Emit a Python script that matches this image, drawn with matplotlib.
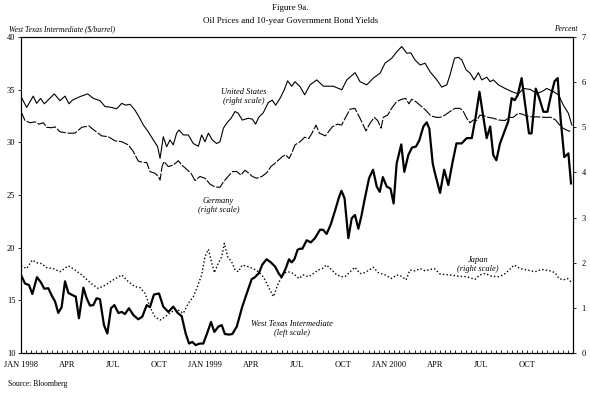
import numpy as np
import matplotlib
matplotlib.use('Agg')
import matplotlib.pyplot as plt

plt.rcParams['font.family'] = ['Liberation Serif', 'DejaVu Serif']

# x positions are months since Jan 1998
wti_t = [0, 0.26, 0.52, 0.74, 1.04, 1.3, 1.52, 1.78, 2.04, 2.22, 2.43, 2.65, 2.87, 3.09, 3.35,
         3.57, 3.78, 4.07, 4.28, 4.5, 4.72, 4.93, 5.15, 5.41, 5.63, 5.87, 6.09, 6.35, 6.57, 6.78,
         7.04, 7.33, 7.65, 7.91, 8.2, 8.41, 8.67, 9.0, 9.28, 9.61, 9.93, 10.22, 10.48, 10.74,
         10.96, 11.17, 11.39, 11.67, 11.89, 12.17, 12.39, 12.61, 12.87, 13.09, 13.3, 13.57,
         13.78, 14.07, 14.43, 14.72, 15.04, 15.26, 15.52, 15.74, 16.02, 16.3, 16.57, 16.83, 17.0,
         17.26, 17.48, 17.65, 17.83, 18.04, 18.2, 18.35, 18.63, 18.9, 19.17, 19.5, 19.7, 19.93,
         20.2, 20.5, 20.74, 20.9, 21.1, 21.35, 21.57, 21.78, 22.0, 22.2, 22.4, 22.7, 22.96, 23.2,
         23.4, 23.6, 23.85, 24.1, 24.3, 24.5, 24.8, 25.0, 25.26, 25.5, 25.76, 25.98, 26.24,
         26.46, 26.63, 26.85, 27.0, 27.33, 27.6, 27.87, 28.13, 28.4, 28.74, 29.07, 29.4, 29.65,
         29.9, 30.15, 30.37, 30.6, 30.8, 31.0, 31.24, 31.57, 31.78, 32.0, 32.2, 32.4, 32.65,
         32.87, 33.13, 33.3, 33.57, 33.8, 34.07, 34.33, 34.57, 34.8, 35.0, 35.2, 35.43, 35.7, 35.87]
wti_v = [17.4, 16.6, 16.45, 15.6, 17.2, 16.7, 16.1, 16.15, 15.35, 14.9, 13.8, 14.35, 16.8, 15.7, 15.5,
         15.35, 13.3, 16.2, 15.2, 14.5, 14.55, 15.2, 15.1, 12.65, 11.85, 14.25, 14.55, 13.8, 13.9, 13.7,
         14.25, 13.6, 13.2, 13.45, 14.55, 14.35, 15.55, 15.65, 14.4, 13.9, 14.4, 13.8, 13.5, 11.85,
         10.9, 11.05, 10.75, 10.9, 10.9, 12.0, 12.95, 12.0, 12.5, 12.65, 11.8, 11.75,
         11.8, 12.5, 14.4, 15.65, 17.0, 17.2, 17.6, 18.4, 18.9, 18.6, 18.2, 17.5, 17.2,
         18.0, 18.9, 18.6, 18.9, 19.8, 19.9, 19.9, 20.7, 20.5, 20.9, 21.7, 21.7, 21.3,
         22.2, 23.6, 24.8, 25.4, 24.7, 20.9, 22.8, 23.1, 21.8, 23.0, 24.5, 26.6, 27.4, 25.8,
         25.3, 26.7, 25.8, 25.6, 24.2, 28.0, 29.8, 27.2, 28.8, 29.5, 29.6, 30.2, 31.5,
         31.9, 31.3, 28.0, 27.05, 25.2, 27.4, 25.95, 28.0, 29.9, 29.9, 30.4, 30.4, 32.4,
         34.8, 32.4, 30.4, 31.5, 28.8, 28.3, 29.9, 31.2, 32.0, 34.2, 34.0, 34.5, 36.1,
         33.7, 30.85, 30.85, 35.1, 34.2, 32.9, 32.9, 34.5, 35.8, 36.1, 32.1, 28.6, 28.95, 26.1]

us_t = [0, 0.37, 0.8, 1.02, 1.28, 1.52, 2.17, 2.54, 2.87, 3.13, 3.35, 3.85, 4.35, 4.72, 5.15,
        5.48, 5.91, 6.24, 6.57, 6.83, 7.11, 7.43, 7.7, 7.98, 8.3, 8.63, 8.91, 9.07, 9.28, 9.5,
        9.72, 9.93, 10.15, 10.3, 10.59, 10.91, 11.24, 11.57, 11.78, 12.0, 12.22, 12.48, 12.76,
        12.98, 13.2, 13.41, 13.7, 13.96, 14.17, 14.43, 14.83, 15.09, 15.3, 15.52, 15.8, 16.13,
        16.39, 16.61, 16.89, 17.17, 17.39, 17.65, 17.87, 18.2, 18.5, 18.85, 19.29, 19.72, 20.37,
        20.92, 21.25, 21.79, 22.11, 22.55, 22.98, 23.42, 23.74, 24.18, 24.5, 24.83, 25.16, 25.42,
        25.7, 26.03, 26.35, 26.68, 27.12, 27.44, 27.77, 27.98, 28.27, 28.53, 28.75, 29.03, 29.29,
        29.55, 29.83, 30.05, 30.38, 30.59, 30.81, 31.14, 31.57, 32.01, 32.44, 32.77, 33.2, 33.64,
        33.97, 34.29, 34.72, 35.05, 35.37, 35.7, 35.92]
us_v = [5.68, 5.44, 5.69, 5.53, 5.64, 5.52, 5.74, 5.59, 5.69, 5.52, 5.60, 5.68, 5.74, 5.64, 5.59,
        5.46, 5.44, 5.41, 5.53, 5.49, 5.51, 5.38, 5.23, 5.05, 4.90, 4.72, 4.57, 4.31, 4.79, 4.57,
        4.72, 4.61, 4.87, 4.94, 4.83, 4.83, 4.64, 4.58, 4.83, 4.68, 4.87, 4.72, 4.64,
        4.68, 4.98, 5.09, 5.2, 5.35, 5.31, 5.16, 5.2, 5.18, 5.07, 5.23, 5.32, 5.55,
        5.6, 5.49, 5.64, 5.83, 6.03, 5.91, 6.01, 5.9, 5.72, 5.94, 6.05, 5.91, 5.91,
        5.83, 6.05, 6.21, 6.01, 5.94, 6.09, 6.2, 6.42, 6.53, 6.67, 6.79, 6.64, 6.65,
        6.49, 6.38, 6.42, 6.23, 6.05, 5.89, 5.94, 6.16, 6.53, 6.55, 6.49, 6.27, 6.2,
        6.05, 6.21, 6.05, 6.11, 6.01, 6.05, 5.94, 5.86, 5.79, 5.74, 5.86, 5.84, 5.75,
        5.79, 5.86, 5.79, 5.72, 5.49, 5.31, 5.05]

de_t = [0, 0.26, 0.59, 0.91, 1.17, 1.46, 1.67, 2.0, 2.22, 2.54, 3.09, 3.52, 3.96, 4.43, 4.83,
        5.26, 5.7, 6.13, 6.57, 7.0, 7.33, 7.65, 7.98, 8.2, 8.41, 8.74, 8.96, 9.07, 9.2, 9.33,
        9.6, 9.93, 10.26, 10.5, 10.8, 11.09, 11.35, 11.67, 12.0, 12.33, 12.65, 12.98, 13.2, 13.5,
        13.8, 14.07, 14.35, 14.61, 14.87, 15.09, 15.37, 15.7, 16.02, 16.3, 16.52, 16.78, 17.04,
        17.26, 17.48, 17.65, 17.87, 18.2, 18.5, 18.76, 18.98, 19.24, 19.46, 19.85, 20.3, 20.63,
        20.91, 21.17, 21.46, 21.78, 22.11, 22.5, 22.76, 23.04, 23.26, 23.48, 23.63, 23.91, 24.17,
        24.5, 24.83, 25.09, 25.3, 25.48, 25.74, 26.09, 26.39, 26.74, 27.11, 27.33, 27.65, 27.98,
        28.3, 28.63, 28.85, 29.07, 29.28, 29.5, 29.72, 29.93, 30.22, 30.48, 30.8, 31.17, 31.57,
        31.83, 32.1, 32.43, 32.7, 32.98, 33.35, 33.74, 34.17, 34.57, 34.87, 35.13, 35.35, 35.57,
        35.87]
de_v = [5.35, 5.15, 5.10, 5.12, 5.07, 5.10, 5.0, 4.99, 5.01, 4.90, 4.87, 4.87, 5.0, 5.03, 4.92,
        4.81, 4.79, 4.70, 4.68, 4.61, 4.46, 4.25, 4.22, 4.22, 4.02, 3.98, 3.91, 3.83, 4.13, 4.24,
        4.13, 4.16, 4.26, 4.16, 4.07, 3.98, 3.82, 3.91, 3.87, 3.74, 3.68, 3.67, 3.79, 3.91,
        4.02, 4.02, 3.94, 4.05, 3.98, 3.91, 3.87, 3.91, 3.99, 4.13, 4.19, 4.27, 4.35,
        4.39, 4.31, 4.42, 4.61, 4.68, 4.78, 4.75, 4.87, 5.05, 4.87, 4.81, 5.01, 5.07,
        5.05, 5.22, 5.4, 5.42, 5.2, 4.92, 5.09, 5.22, 5.15, 4.98, 5.22, 5.27, 5.42,
        5.57, 5.62, 5.64, 5.52, 5.62, 5.57, 5.47, 5.38, 5.25, 5.22, 5.22, 5.27, 5.35,
        5.42, 5.42, 5.35, 5.2, 5.1, 5.16, 5.15, 5.27, 5.25, 5.22, 5.2, 5.16, 5.15,
        5.22, 5.22, 5.31, 5.29, 5.25, 5.23, 5.23, 5.22, 5.22, 5.16, 5.05, 4.98, 4.94,
        4.9]

jp_t = [0, 0.37, 0.74, 1.02, 1.35, 1.67, 2.11, 2.54, 3.09, 3.52, 3.96, 4.61, 5.04, 5.48, 6.02,
        6.57, 7.0, 7.43, 7.76, 8.09, 8.41, 8.74, 9.07, 9.4, 9.72, 10.15, 10.59, 10.91, 11.24,
        11.46, 11.78, 12.0, 12.22, 12.39, 12.61, 12.87, 13.09, 13.26, 13.48, 13.74, 13.96, 14.17,
        14.43, 14.83, 15.15, 15.48, 15.8, 16.13, 16.46, 16.78, 17.11, 17.43, 17.76, 18.13, 18.41,
        18.74, 19.07, 19.39, 19.65, 19.93, 20.26, 20.59, 20.91, 21.13, 21.46, 21.78, 22.11, 22.43,
        22.98, 23.3, 23.74, 24.17, 24.5, 24.83, 25.11, 25.37, 25.7, 26.02, 26.35, 26.67, 26.96,
        27.33, 27.98, 28.52, 29.07, 29.61, 29.93, 30.26, 30.7, 31.13, 31.46, 31.78, 32.17, 32.54,
        32.98, 33.52, 33.96, 34.5, 34.83, 35.09, 35.37, 35.65, 35.91]
jp_v = [1.93, 1.87, 2.06, 2.0, 1.98, 1.89, 1.87, 1.80, 1.93, 1.84, 1.73, 1.53, 1.43, 1.50, 1.62,
        1.73, 1.58, 1.47, 1.45, 1.32, 1.02, 0.80, 0.73, 0.80, 0.89, 0.97, 0.88, 1.1, 1.25,
        1.43, 1.73, 2.13, 2.3, 2.06, 1.78, 1.99, 2.13, 2.43, 2.13, 2.02, 1.84, 1.8,
        1.95, 1.91, 1.87, 1.8, 1.69, 1.47, 1.25, 1.54, 1.76, 1.8, 1.76, 1.65, 1.73,
        1.69, 1.76, 1.84, 1.87, 1.95, 1.84, 1.73, 1.69, 1.69, 1.8, 1.9, 1.76, 1.78,
        1.9, 1.78, 1.73, 1.65, 1.73, 1.7, 1.62, 1.84, 1.82, 1.87, 1.82, 1.85, 1.87,
        1.75, 1.73, 1.7, 1.69, 1.63, 1.73, 1.76, 1.7, 1.69, 1.73, 1.82, 1.95, 1.87,
        1.84, 1.8, 1.85, 1.82, 1.78, 1.65, 1.62, 1.65, 1.56]

month_ticks = [0, 3, 6, 9, 12, 15, 18, 21, 24, 27, 30, 33]
month_labels = ['JAN 1998', 'APR', 'JUL', 'OCT', 'JAN 1999', 'APR', 'JUL', 'OCT',
                'JAN 2000', 'APR', 'JUL', 'OCT']

fig = plt.figure(figsize=(5.9, 3.94), dpi=100)
ax = fig.add_axes([21/590, 1 - 353/394, 552/590, 316/394])
ax2 = ax.twinx()

ax2.plot(us_t, us_v, color='black', lw=0.8)
ax2.plot(de_t, de_v, color='black', lw=0.8, dashes=(9, 1.5))
ax2.plot(jp_t, jp_v, color='black', lw=1.0, dashes=(1, 1.6))
ax.plot(wti_t, wti_v, color='black', lw=1.6)
ax.set_zorder(ax2.get_zorder() + 1)
ax.patch.set_visible(False)

ax.set_xlim(0, 36)
ax.set_ylim(10, 40)
ax2.set_ylim(0, 7)
ax.set_yticks(np.arange(10, 41, 5))
ax2.set_yticks(np.arange(0, 8, 1))
ax.set_xticks(month_ticks)
ax.set_xticklabels(month_labels)
ax.set_xticks(np.arange(0, 36, 1/3), minor=True)

ax.tick_params(axis='x', which='both', direction='in', length=2.5, width=0.6,
               labelsize=6, pad=6)
ax.tick_params(axis='y', direction='out', length=2, width=0.6, labelsize=6, pad=2)
ax2.tick_params(axis='y', direction='out', length=2, width=0.6, labelsize=6, pad=4)
for a in (ax, ax2):
    for s in a.spines.values():
        s.set_linewidth(0.8)

fig.text(0.492, 1 - 8/394, 'Figure 9a.', ha='center', va='center', fontsize=6.5)
fig.text(0.492, 1 - 21/394, 'Oil Prices and 10-year Government Bond Yields', ha='center',
         va='center', fontsize=6.5)
fig.text(9/590, 1 - 29/394, 'West Texas Intermediate ($/barrel)', ha='left', va='center',
         fontsize=5.5, style='italic')
fig.text(578/590, 1 - 29/394, 'Percent', ha='right', va='center', fontsize=5.5, style='italic')
fig.text(8/590, 1 - 384/394, 'Source: Bloomberg', ha='left', va='center', fontsize=5.5)

ax2.text(14.5, 5.68, 'United States\n(right scale)', ha='center', va='center', fontsize=6,
         style='italic', linespacing=1.1)
ax2.text(12.87, 3.27, 'Germany\n(right scale)', ha='center', va='center', fontsize=6,
         style='italic', linespacing=1.1)
ax2.text(17.7, 0.54, 'West Texas Intermediate\n(left scale)', ha='center', va='center',
         fontsize=6, style='italic', linespacing=1.1)
ax2.text(29.8, 1.96, 'Japan\n(right scale)', ha='center', va='center', fontsize=6,
         style='italic', linespacing=1.1)

fig.savefig('out.png', dpi=100)
